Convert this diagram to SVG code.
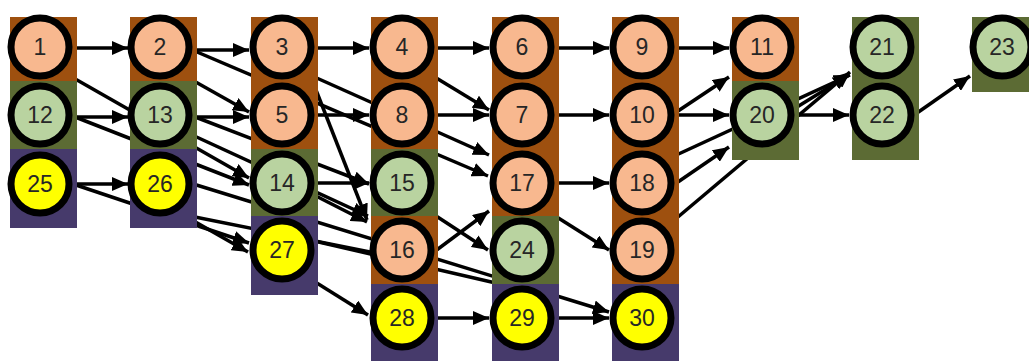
<svg xmlns="http://www.w3.org/2000/svg" width="1029" height="361" viewBox="0 0 1029 361">
<style>
.e{stroke:#000;stroke-width:3.5;fill:none}
.a{marker-end:url(#ah)}
.br{fill:#9e500f}
.gr{fill:#5c6b34}
.pu{fill:#463a6b}
.n circle{stroke:#000;stroke-width:7}
.o circle{fill:#f8b88f}
.g circle{fill:#b9d3a0}
.y circle{fill:#ffff00}
.n text{font-family:"Liberation Sans",Arial,sans-serif;font-size:23px;fill:#262626;text-anchor:middle;dominant-baseline:central}
</style>
<defs>
<marker id="ah" markerUnits="userSpaceOnUse" markerWidth="17" markerHeight="14" refX="16" refY="7" orient="auto">
<path d="M0,0 L16,7 L0,14 z" fill="#000"/>
</marker>
</defs>
<rect width="1029" height="361" fill="#fff"/>
<g id="connectors">
<line class="e a" x1="70" y1="48" x2="128" y2="48"/>
<line class="e a" x1="70" y1="76" x2="249" y2="178"/>
<line class="e a" x1="70" y1="117" x2="128" y2="117"/>
<line class="e a" x1="70" y1="115" x2="249" y2="185"/>
<line class="e a" x1="70" y1="184" x2="128" y2="184"/>
<line class="e a" x1="70" y1="183" x2="249" y2="243"/>
<line class="e a" x1="190" y1="50" x2="249" y2="50"/>
<line class="e a" x1="190" y1="49" x2="488" y2="176"/>
<line class="e a" x1="185" y1="76" x2="249" y2="112"/>
<line class="e a" x1="190" y1="117" x2="249" y2="117"/>
<line class="e a" x1="190" y1="115" x2="369" y2="184"/>
<line class="e a" x1="190" y1="134" x2="368" y2="216"/>
<line class="e a" x1="190" y1="183" x2="609" y2="312"/>
<line class="e" x1="190" y1="216" x2="380" y2="254"/>
<line class="e a" x1="185" y1="216" x2="248" y2="252"/>
<line class="e a" x1="310" y1="48" x2="369" y2="48"/>
<line class="e a" x1="310" y1="75" x2="489" y2="155"/>
<line class="e a" x1="310" y1="115" x2="369" y2="115"/>
<line class="e a" x1="316" y1="90" x2="367" y2="220"/>
<line class="e a" x1="310" y1="183" x2="369" y2="183"/>
<line class="e a" x1="312" y1="194" x2="367" y2="222"/>
<line class="e" x1="310" y1="240" x2="500" y2="284"/>
<line class="e a" x1="312" y1="280" x2="368" y2="315"/>
<line class="e a" x1="430" y1="48" x2="489" y2="48"/>
<line class="e a" x1="433" y1="76" x2="489" y2="110"/>
<line class="e a" x1="430" y1="115" x2="489" y2="115"/>
<line class="e a" x1="430" y1="212" x2="488" y2="250"/>
<line class="e a" x1="430" y1="255" x2="489" y2="211"/>
<line class="e a" x1="430" y1="318" x2="489" y2="318"/>
<line class="e a" x1="550" y1="48" x2="609" y2="48"/>
<line class="e a" x1="550" y1="115" x2="609" y2="115"/>
<line class="e a" x1="550" y1="183" x2="609" y2="183"/>
<line class="e a" x1="552" y1="214" x2="609" y2="250"/>
<line class="e a" x1="550" y1="318" x2="609" y2="318"/>
<line class="e a" x1="670" y1="48" x2="729" y2="48"/>
<line class="e a" x1="675" y1="113" x2="729" y2="77"/>
<line class="e a" x1="670" y1="115" x2="729" y2="115"/>
<line class="e a" x1="675" y1="184" x2="729" y2="147"/>
<line class="e a" x1="672" y1="157" x2="850" y2="75"/>
<line class="e a" x1="672" y1="222" x2="850" y2="72"/>
<line class="e a" x1="797" y1="107" x2="849" y2="75"/>
<line class="e a" x1="790" y1="115" x2="849" y2="115"/>
<line class="e a" x1="917" y1="113" x2="970" y2="76"/>
</g>
<g id="columns">
<rect class="br" x="10" y="17" width="67" height="64"/>
<rect class="gr" x="10" y="81" width="67" height="68"/>
<rect class="pu" x="10" y="149" width="67" height="79"/>
<rect class="br" x="130" y="17" width="67" height="64"/>
<rect class="gr" x="130" y="81" width="67" height="68"/>
<rect class="pu" x="130" y="149" width="67" height="79"/>
<rect class="br" x="251" y="17" width="67" height="132"/>
<rect class="gr" x="251" y="149" width="67" height="67"/>
<rect class="pu" x="251" y="216" width="67" height="79"/>
<rect class="br" x="371" y="17" width="67" height="132"/>
<rect class="gr" x="371" y="149" width="67" height="67"/>
<rect class="br" x="371" y="216" width="67" height="68"/>
<rect class="pu" x="371" y="284" width="67" height="77"/>
<rect class="br" x="492" y="17" width="67" height="199"/>
<rect class="gr" x="492" y="216" width="67" height="68"/>
<rect class="pu" x="492" y="284" width="67" height="77"/>
<rect class="br" x="612" y="17" width="67" height="267"/>
<rect class="pu" x="612" y="284" width="67" height="77"/>
<rect class="br" x="732" y="17" width="67" height="64"/>
<rect class="gr" x="732" y="81" width="67" height="79"/>
<rect class="gr" x="852" y="17" width="67" height="143"/>
<rect class="gr" x="972" y="17" width="67" height="75"/>
</g>
<g id="n1" class="n o"><circle cx="40" cy="47" r="29"/><text x="40" y="47">1</text></g>
<g id="n12" class="n g"><circle cx="40" cy="115" r="29"/><text x="40" y="115">12</text></g>
<g id="n25" class="n y"><circle cx="40" cy="184" r="29"/><text x="40" y="184">25</text></g>
<g id="n2" class="n o"><circle cx="160" cy="47" r="29"/><text x="160" y="47">2</text></g>
<g id="n13" class="n g"><circle cx="160" cy="115" r="29"/><text x="160" y="115">13</text></g>
<g id="n26" class="n y"><circle cx="160" cy="184" r="29"/><text x="160" y="184">26</text></g>
<g id="n3" class="n o"><circle cx="282" cy="47" r="29"/><text x="282" y="47">3</text></g>
<g id="n5" class="n o"><circle cx="282" cy="115" r="29"/><text x="282" y="115">5</text></g>
<g id="n14" class="n g"><circle cx="282" cy="183" r="29"/><text x="282" y="183">14</text></g>
<g id="n27" class="n y"><circle cx="282" cy="250" r="29"/><text x="282" y="250">27</text></g>
<g id="n4" class="n o"><circle cx="402" cy="47" r="29"/><text x="402" y="47">4</text></g>
<g id="n8" class="n o"><circle cx="402" cy="115" r="29"/><text x="402" y="115">8</text></g>
<g id="n15" class="n g"><circle cx="402" cy="183" r="29"/><text x="402" y="183">15</text></g>
<g id="n16" class="n o"><circle cx="402" cy="250" r="29"/><text x="402" y="250">16</text></g>
<g id="n28" class="n y"><circle cx="402" cy="318" r="29"/><text x="402" y="318">28</text></g>
<g id="n6" class="n o"><circle cx="522" cy="47" r="29"/><text x="522" y="47">6</text></g>
<g id="n7" class="n o"><circle cx="522" cy="115" r="29"/><text x="522" y="115">7</text></g>
<g id="n17" class="n o"><circle cx="522" cy="183" r="29"/><text x="522" y="183">17</text></g>
<g id="n24" class="n g"><circle cx="522" cy="250" r="29"/><text x="522" y="250">24</text></g>
<g id="n29" class="n y"><circle cx="522" cy="318" r="29"/><text x="522" y="318">29</text></g>
<g id="n9" class="n o"><circle cx="642" cy="47" r="29"/><text x="642" y="47">9</text></g>
<g id="n10" class="n o"><circle cx="642" cy="115" r="29"/><text x="642" y="115">10</text></g>
<g id="n18" class="n o"><circle cx="642" cy="183" r="29"/><text x="642" y="183">18</text></g>
<g id="n19" class="n o"><circle cx="642" cy="250" r="29"/><text x="642" y="250">19</text></g>
<g id="n30" class="n y"><circle cx="642" cy="318" r="29"/><text x="642" y="318">30</text></g>
<g id="n11" class="n o"><circle cx="762" cy="47" r="29"/><text x="762" y="47">11</text></g>
<g id="n20" class="n g"><circle cx="762" cy="115" r="29"/><text x="762" y="115">20</text></g>
<g id="n21" class="n g"><circle cx="882" cy="47" r="29"/><text x="882" y="47">21</text></g>
<g id="n22" class="n g"><circle cx="882" cy="115" r="29"/><text x="882" y="115">22</text></g>
<g id="n23" class="n g"><circle cx="1002" cy="47" r="29"/><text x="1002" y="47">23</text></g>
</svg>
